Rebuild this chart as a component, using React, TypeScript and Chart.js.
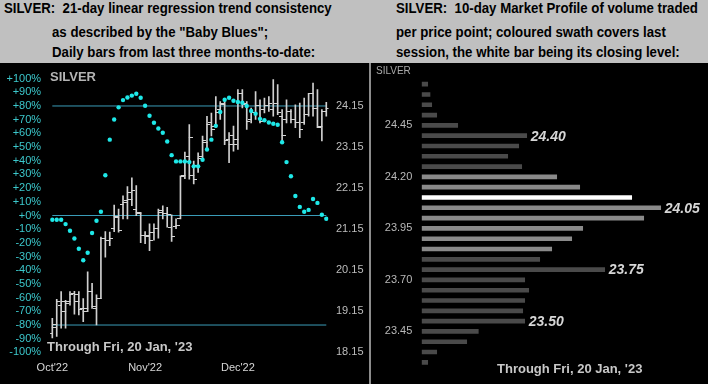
import React, { useEffect, useRef } from 'react';
import { Chart, registerables } from 'chart.js';

Chart.register(...registerables);

// ---------- Left chart data ----------
const monthLabels = ["Oct'22", "Nov'22", "Dec'22"];
const monthStartIndex = [0, 21, 42];

const opens = [18.62, 18.82, 19.30, 19.14, 19.38, 19.59, 19.38, 19.21, 19.22, 19.63, 19.22, 19.46, 20.92, 20.88, 21.16, 21.44, 21.76, 21.84, 21.88, 21.64, 21.52, 20.99, 20.99, 21.08, 21.16, 21.60, 21.52, 21.20, 21.22, 21.40, 22.45, 22.93, 22.45, 22.69, 22.93, 23.25, 23.74, 23.66, 24.06, 24.18, 23.34, 23.42, 23.34, 24.45, 24.18, 23.82, 23.98, 24.17, 24.06, 24.17, 24.06, 24.21, 23.90, 23.82, 24.02, 23.82, 23.74, 23.74, 23.94, 24.45, 24.10, 23.66, 24.02];
const highs = [18.98, 19.44, 19.63, 19.42, 19.63, 19.64, 19.63, 19.46, 20.11, 19.83, 19.55, 20.96, 21.09, 21.08, 21.74, 21.64, 21.96, 22.19, 22.40, 22.21, 21.56, 21.09, 21.28, 21.28, 21.64, 21.72, 21.68, 21.50, 21.40, 22.45, 23.03, 23.70, 22.81, 23.01, 23.42, 23.90, 23.98, 24.38, 24.26, 24.30, 23.50, 23.66, 24.55, 24.55, 24.26, 24.10, 24.50, 24.30, 24.34, 24.38, 24.79, 24.67, 24.06, 24.30, 24.06, 24.18, 24.22, 24.34, 24.46, 24.71, 24.55, 24.06, 24.24];
const lows = [18.50, 18.54, 18.74, 18.74, 19.30, 19.08, 19.06, 18.90, 19.14, 19.22, 18.82, 19.46, 20.47, 20.75, 21.09, 21.08, 21.40, 21.40, 21.72, 21.48, 20.82, 20.80, 20.63, 20.88, 20.93, 21.40, 21.20, 20.85, 21.16, 21.40, 22.38, 22.37, 22.25, 22.53, 22.85, 23.13, 23.42, 23.62, 23.82, 23.21, 22.77, 23.05, 23.09, 24.10, 23.58, 23.74, 23.82, 23.74, 23.98, 24.02, 23.90, 23.94, 23.30, 23.74, 23.74, 23.62, 23.38, 23.70, 23.90, 23.90, 23.62, 23.30, 23.90];
const closes = [18.75, 19.40, 19.38, 19.34, 19.56, 19.56, 19.20, 19.14, 19.64, 19.26, 19.46, 20.92, 20.88, 20.93, 21.46, 21.12, 21.80, 22.05, 22.09, 21.56, 20.99, 20.96, 20.88, 21.16, 21.56, 21.52, 21.50, 20.96, 21.24, 22.43, 22.81, 23.38, 22.37, 22.87, 23.30, 23.70, 23.58, 23.98, 24.21, 23.30, 23.21, 23.21, 24.45, 24.22, 23.78, 23.98, 24.17, 23.78, 24.17, 24.22, 24.21, 23.98, 23.42, 24.02, 23.82, 23.74, 23.58, 23.94, 24.45, 24.10, 23.62, 24.02, 24.10];
const babyBlues = [-3.1, -3.1, -3.1, -6.3, -11.1, -16.8, -24.3, -32.7, -27.2, -12.8, -3.8, 2.7, 29.4, 55.4, 70.1, 79, 84.3, 86.2, 87.6, 88.9, 86, 80.2, 72.9, 67.7, 63.6, 60.5, 54, 44.1, 39.5, 39.5, 39.5, 39, 35.9, 35.9, 40.7, 48.2, 55.4, 65.5, 75.6, 84.5, 86, 83.8, 82.9, 82.4, 80, 76.4, 74.4, 70.6, 69.6, 67.9, 67, 66.3, 53.5, 39, 28.7, 14.2, 6.3, 2.7, 4.1, 12.1, 9.2, 0.5, -2.4];
const pctTicks = [100, 90, 80, 70, 60, 50, 40, 30, 20, 10, 0, -10, -20, -30, -40, -50, -60, -70, -80, -90, -100];
const priceTicks = [18.15, 19.15, 20.15, 21.15, 22.15, 23.15, 24.15];
const bbLevels = [80, 0, -80];

// ---------- Right chart data ----------
const profileLevels = ['24.65', '24.60', '24.55', '24.50', '24.45', '24.40', '24.35', '24.30', '24.25', '24.20', '24.15', '24.10', '24.05', '24.00', '23.95', '23.90', '23.85', '23.80', '23.75', '23.70', '23.65', '23.60', '23.55', '23.50', '23.45', '23.40', '23.35', '23.30'];
const profileVolumes = [6, 8.3, 10, 15, 36, 105, 97, 86, 100, 135, 158, 210, 239, 222, 161, 150, 130, 118, 183, 103, 107, 103, 101, 103, 56.6, 45, 15, 6];
const sessionLevels = ['24.20', '24.15', '24.10', '24.05', '24.00', '23.95', '23.90', '23.85'];
const closeLevel = '24.10';
const profileTickLabels = ['24.45', '24.20', '23.95', '23.70', '23.45'];
const profileCallouts = ['24.40', '24.05', '23.75', '23.50'];

const FONT = "'Liberation Sans', Arial, sans-serif";

function makeTick(side: 'left' | 'right'): HTMLCanvasElement {
  const c = document.createElement('canvas');
  c.width = 7;
  c.height = 1;
  const g = c.getContext('2d')!;
  g.fillStyle = '#d4d4d4';
  if (side === 'left') g.fillRect(0, 0, 4, 1);
  else g.fillRect(3, 0, 4, 1);
  return c;
}

function LeftChart() {
  const ref = useRef<HTMLCanvasElement>(null);
  useEffect(() => {
    const n = opens.length;
    const priceMin = 18.15;
    const priceAt80 = 24.15;
    const priceMax = priceMin + ((priceAt80 - priceMin) * 200) / 180;
    const chart = new Chart(ref.current!, {
      type: 'bar',
      data: {
        datasets: [
          ...bbLevels.map((lvl) => ({
            type: 'line' as const,
            data: [{ x: 0, y: lvl }, { x: n - 1, y: lvl }],
            yAxisID: 'pct',
            borderColor: '#3a9cb8',
            borderWidth: 1,
            pointRadius: 0,
            order: 5,
          })),
          {
            type: 'bar' as const,
            data: lows.map((l, i) => ({ x: i, y: [l, highs[i]] })),
            yAxisID: 'price',
            backgroundColor: '#d0d0d0',
            barThickness: 1,
            grouped: false,
            order: 4,
          },
          {
            type: 'scatter' as const,
            data: opens.map((v, i) => ({ x: i, y: v })),
            yAxisID: 'price',
            pointStyle: makeTick('left'),
            pointRadius: 3,
            order: 3,
          },
          {
            type: 'scatter' as const,
            data: closes.map((v, i) => ({ x: i, y: v })),
            yAxisID: 'price',
            pointStyle: makeTick('right'),
            pointRadius: 3,
            order: 2,
          },
          {
            type: 'scatter' as const,
            data: babyBlues.map((v, i) => ({ x: i, y: v })),
            yAxisID: 'pct',
            backgroundColor: '#1ee8e8',
            borderColor: '#1ee8e8',
            borderWidth: 0,
            pointRadius: 2.2,
            order: 1,
          },
        ] as any,
      },
      options: {
        animation: false,
        responsive: false,
        maintainAspectRatio: false,
        layout: { padding: { top: 12.6, left: 0, right: 0, bottom: 0 } },
        plugins: { legend: { display: false }, tooltip: { enabled: false } },
        scales: {
          x: {
            type: 'linear',
            offset: false,
            min: -0.5,
            max: n - 0.5,
            grid: { display: false, drawTicks: false, offset: false },
            border: { display: false },
            afterBuildTicks: (s: any) => {
              s.ticks = monthStartIndex.map((v) => ({ value: v }));
            },
            afterFit: (s: any) => {
              s.height = 31.6;
            },
            ticks: {
              autoSkip: false,
              maxRotation: 0,
              padding: 9,
              color: '#d8d8d8',
              font: { size: 11, family: FONT },
              callback: (v: any) => monthLabels[monthStartIndex.indexOf(Number(v))] ?? '',
            },
          },
          pct: {
            type: 'linear',
            position: 'left',
            min: -100,
            max: 100,
            grid: { display: false, drawTicks: false },
            border: { display: false },
            afterBuildTicks: (s: any) => {
              s.ticks = pctTicks.map((v) => ({ value: v }));
            },
            afterFit: (s: any) => {
              s.width = 50.1;
            },
            ticks: {
              autoSkip: false,
              padding: 9,
              color: '#3cc8cc',
              font: { size: 11, family: FONT },
              callback: (v: any) => (Number(v) >= 0 ? '+' : '') + v + '%',
            },
          },
          price: {
            type: 'linear',
            position: 'right',
            min: priceMin,
            max: priceMax,
            grid: { display: false, drawTicks: false },
            border: { display: false },
            afterBuildTicks: (s: any) => {
              s.ticks = priceTicks.map((v) => ({ value: v }));
            },
            afterFit: (s: any) => {
              s.width = 39.5;
            },
            ticks: {
              autoSkip: false,
              padding: 7.5,
              color: '#bdbdbd',
              font: { size: 11, family: FONT },
              callback: (v: any) => Number(v).toFixed(2),
            },
          },
        },
      } as any,
    });
    return () => chart.destroy();
  }, []);
  return (
    <canvas
      ref={ref}
      width={368}
      height={321}
      style={{ position: 'absolute', left: 0, top: 63, width: 368, height: 321 }}
    />
  );
}

const calloutPlugin = {
  id: 'callouts',
  afterDatasetsDraw(chart: any) {
    const meta = chart.getDatasetMeta(0);
    const ctx = chart.ctx;
    ctx.save();
    ctx.font = `italic bold 14px ${FONT}`;
    ctx.fillStyle = '#d6d6d6';
    ctx.textBaseline = 'middle';
    ctx.textAlign = 'left';
    profileCallouts.forEach((lvl) => {
      const idx = profileLevels.indexOf(lvl);
      const el = meta.data[idx];
      if (el) ctx.fillText(lvl, el.x + 4, el.y + 1);
    });
    ctx.restore();
  },
};

function RightChart() {
  const ref = useRef<HTMLCanvasElement>(null);
  useEffect(() => {
    const chart = new Chart(ref.current!, {
      type: 'bar',
      data: {
        labels: profileLevels,
        datasets: [
          {
            data: profileVolumes,
            backgroundColor: profileLevels.map((l) =>
              l === closeLevel ? '#ffffff' : sessionLevels.includes(l) ? '#8a8a8a' : '#4a4a4a'
            ),
            barThickness: 4,
          },
        ],
      },
      options: {
        indexAxis: 'y',
        animation: false,
        responsive: false,
        maintainAspectRatio: false,
        layout: { padding: { top: 13.5, bottom: 16.5, left: 0, right: 0 } },
        plugins: { legend: { display: false }, tooltip: { enabled: false } },
        scales: {
          x: { display: false, min: 0, max: 286.3 },
          y: {
            type: 'category',
            grid: { display: false, drawTicks: false },
            border: { display: false },
            afterFit: (s: any) => {
              s.width = 50.7;
            },
            ticks: {
              autoSkip: false,
              padding: 9.4,
              color: '#b8b8b8',
              font: { size: 11, family: FONT },
              callback: (_v: any, i: number) =>
                profileTickLabels.includes(profileLevels[i]) ? profileLevels[i] : '',
            },
          },
        },
      } as any,
      plugins: [calloutPlugin],
    });
    return () => chart.destroy();
  }, []);
  return (
    <canvas
      ref={ref}
      width={337}
      height={321}
      style={{ position: 'absolute', left: 371, top: 63, width: 337, height: 321 }}
    />
  );
}

const titleStyle: React.CSSProperties = {
  position: 'absolute',
  fontFamily: FONT,
  fontWeight: 'bold',
  fontSize: 14,
  lineHeight: '14px',
  color: '#000',
  whiteSpace: 'nowrap',
  transform: 'scaleX(0.945)',
  transformOrigin: 'left top',
};

export default function App() {
  return (
    <div
      style={{
        position: 'fixed',
        left: 0,
        top: 0,
        width: 708,
        height: 384,
        background: '#c0c0c0',
        overflow: 'hidden',
      }}
    >
      <div style={{ ...titleStyle, left: 4, top: 1 }}>SILVER:&nbsp; 21-day linear regression trend consistency</div>
      <div style={{ ...titleStyle, left: 52, top: 25 }}>as described by the "Baby Blues";</div>
      <div style={{ ...titleStyle, left: 52, top: 45 }}>Daily bars from last three months-to-date:</div>
      <div style={{ ...titleStyle, left: 396, top: 1 }}>SILVER:&nbsp; 10-day Market Profile of volume traded</div>
      <div style={{ ...titleStyle, left: 396, top: 25 }}>per price point; coloured swath covers last</div>
      <div style={{ ...titleStyle, left: 396, top: 45 }}>session, the white bar being its closing level:</div>

      <div style={{ position: 'absolute', left: 0, top: 63, width: 708, height: 321, background: '#000' }} />
      <LeftChart />
      <RightChart />
      <div style={{ position: 'absolute', left: 369, top: 63, width: 2, height: 321, background: '#8c8c8c' }} />

      <div
        style={{
          position: 'absolute',
          left: 50,
          top: 69,
          fontFamily: FONT,
          fontWeight: 'bold',
          fontSize: 13,
          color: '#b4b4b4',
        }}
      >
        SILVER
      </div>
      <div
        style={{
          position: 'absolute',
          left: 47,
          top: 339,
          fontFamily: FONT,
          fontWeight: 'bold',
          fontSize: 13,
          color: '#c8c8c8',
        }}
      >
        Through Fri, 20 Jan, '23
      </div>
      <div
        style={{
          position: 'absolute',
          left: 376,
          top: 65,
          fontFamily: FONT,
          fontSize: 10,
          color: '#a8a8a8',
        }}
      >
        SILVER
      </div>
      <div
        style={{
          position: 'absolute',
          left: 497,
          top: 361,
          fontFamily: FONT,
          fontWeight: 'bold',
          fontSize: 13,
          color: '#c8c8c8',
        }}
      >
        Through Fri, 20 Jan, '23
      </div>
    </div>
  );
}
